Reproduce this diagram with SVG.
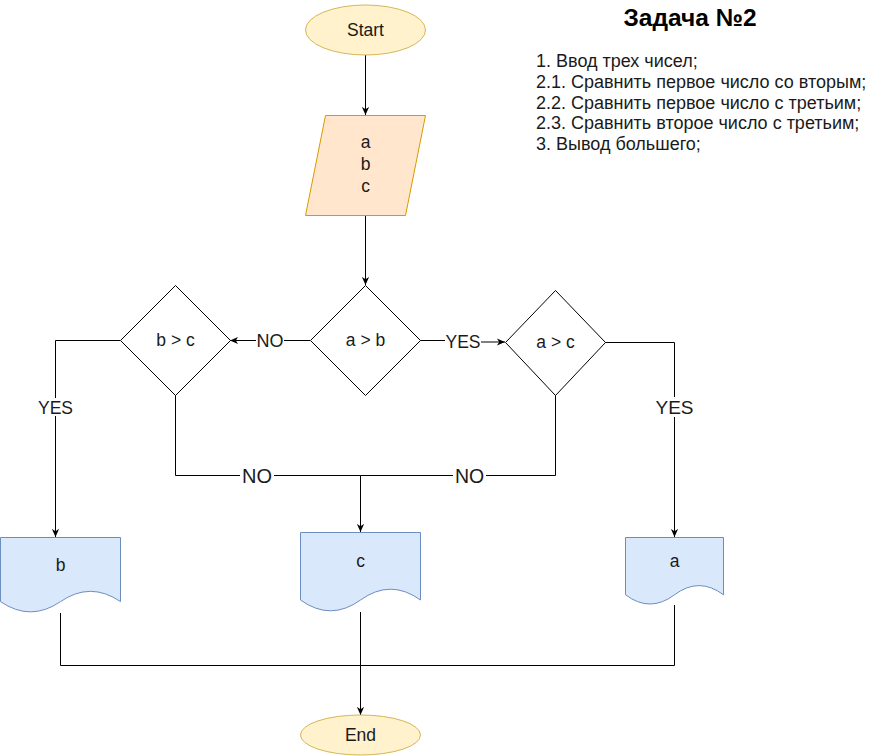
<svg xmlns="http://www.w3.org/2000/svg" width="876" height="756" viewBox="0 0 876 756">
<defs>
<marker id="arr" viewBox="0 0 10 10" refX="9" refY="5" markerWidth="9" markerHeight="9" markerUnits="userSpaceOnUse" orient="auto">
<path d="M0,1 L9,5 L0,9 L2.5,5 Z" fill="#000"/>
</marker>
<style>
text{font-family:"Liberation Sans",Arial,sans-serif;fill:#1a1a1a}
.t{font-size:17.5px;text-anchor:middle}
.term{fill:#fff2cc;stroke:#d6b656;stroke-width:1}
.io{fill:#ffe6cc;stroke:#d79b00;stroke-width:1}
.doc{fill:#dae8fc;stroke:#6c8ebf;stroke-width:1}
.dec{fill:#fff;stroke:#000;stroke-width:1}
.edge{fill:none;stroke:#000;stroke-width:1}
.lbl{text-anchor:middle;font-size:17.5px}
.lblbg{fill:#fff}
.list{font-size:18px}
</style>
</defs>
<rect width="876" height="756" fill="#fff"/>

<g id="connectors">
<path class="edge" d="M365.5,55 V115" marker-end="url(#arr)"/>
<path class="edge" d="M365.5,215 V285" marker-end="url(#arr)"/>
<path class="edge" d="M310,340.5 H230" marker-end="url(#arr)"/>
<path class="edge" d="M420,340.5 H463 V342 H505" marker-end="url(#arr)"/>
<path class="edge" d="M120,340.5 H55.5 V537" marker-end="url(#arr)"/>
<path class="edge" d="M175.5,395 V475.5 H360.5 V532" marker-end="url(#arr)"/>
<path class="edge" d="M555.5,395 V475.5 H360.5"/>
<path class="edge" d="M605,342.5 H674.5 V537" marker-end="url(#arr)"/>
<path class="edge" d="M60.5,613 V665.5 H674.5 V605"/>
<path class="edge" d="M360.5,612 V715" marker-end="url(#arr)"/>
<rect class="lblbg" x="256" y="331" width="28" height="19"/>
<text class="lbl" x="270" y="347" style="font-size:18px">NO</text>
<rect class="lblbg" x="445" y="331" width="36" height="20"/>
<text class="lbl" x="463" y="347.5">YES</text>
<rect class="lblbg" x="37" y="398" width="37" height="18"/>
<text class="lbl" x="55.5" y="413.5">YES</text>
<rect class="lblbg" x="654" y="397" width="40" height="20"/>
<text class="lbl" x="674.5" y="414" style="font-size:19px">YES</text>
<rect class="lblbg" x="240" y="465" width="34" height="20"/>
<text class="lbl" x="257" y="482.5" style="font-size:20px">NO</text>
<rect class="lblbg" x="453" y="465" width="33" height="20"/>
<text class="lbl" x="469.5" y="482.5" style="font-size:19.5px">NO</text>
</g>

<g id="start">
<ellipse class="term" cx="365.5" cy="30" rx="60" ry="25"/>
<text class="t" x="365.5" y="36">Start</text>
</g>

<g id="input">
<polygon class="io" points="325.5,115.5 425.5,115.5 405.5,215.5 305.5,215.5"/>
<text class="t" x="365.5" y="148">a</text>
<text class="t" x="365.5" y="170">b</text>
<text class="t" x="365.5" y="191.5">c</text>
</g>

<g id="dec_ab">
<polygon class="dec" points="365.5,285.5 420.5,340.5 365.5,395.5 310.5,340.5"/>
<text class="t" x="365.5" y="346">a &gt; b</text>
</g>

<g id="dec_bc">
<polygon class="dec" points="175.5,285.5 230.5,340.5 175.5,395.5 120.5,340.5"/>
<text class="t" x="175.5" y="346">b &gt; c</text>
</g>

<g id="dec_ac">
<polygon class="dec" points="555.5,290.5 605.5,342.5 555.5,395.5 505.5,342.5"/>
<text class="t" x="555.5" y="348">a &gt; c</text>
</g>

<g id="out_b">
<path class="doc" d="M0.5,537.5 H120.5 V601.6 Q90.5,581.1 60.5,601.6 Q30.5,622.1 0.5,601.6 Z"/>
<text class="t" x="60.5" y="571">b</text>
</g>

<g id="out_c">
<path class="doc" d="M300.5,532.5 H420.5 V600 Q390.5,578.4 360.5,600 Q330.5,621.6 300.5,600 Z"/>
<text class="t" x="360.5" y="566.5">c</text>
</g>

<g id="out_a">
<path class="doc" d="M625.5,537.5 H723.5 V594.8 Q699,576.4 674.5,594.8 Q650,613.2 625.5,594.8 Z"/>
<text class="t" x="674.5" y="566.5">a</text>
</g>

<g id="end">
<ellipse class="term" cx="360.5" cy="735" rx="60" ry="20"/>
<text class="t" x="360.5" y="741">End</text>
</g>

<g id="task">
<text x="690" y="25.5" style="font-size:24.5px;font-weight:bold;text-anchor:middle;fill:#000">Задача №2</text>
<text class="list" x="536" y="67">1. Ввод трех чисел;</text>
<text class="list" x="536" y="88">2.1. Сравнить первое число со вторым;</text>
<text class="list" x="536" y="108.5">2.2. Сравнить первое число с третьим;</text>
<text class="list" x="536" y="129">2.3. Сравнить второе число с третьим;</text>
<text class="list" x="536" y="150">3. Вывод большего;</text>
</g>
</svg>
